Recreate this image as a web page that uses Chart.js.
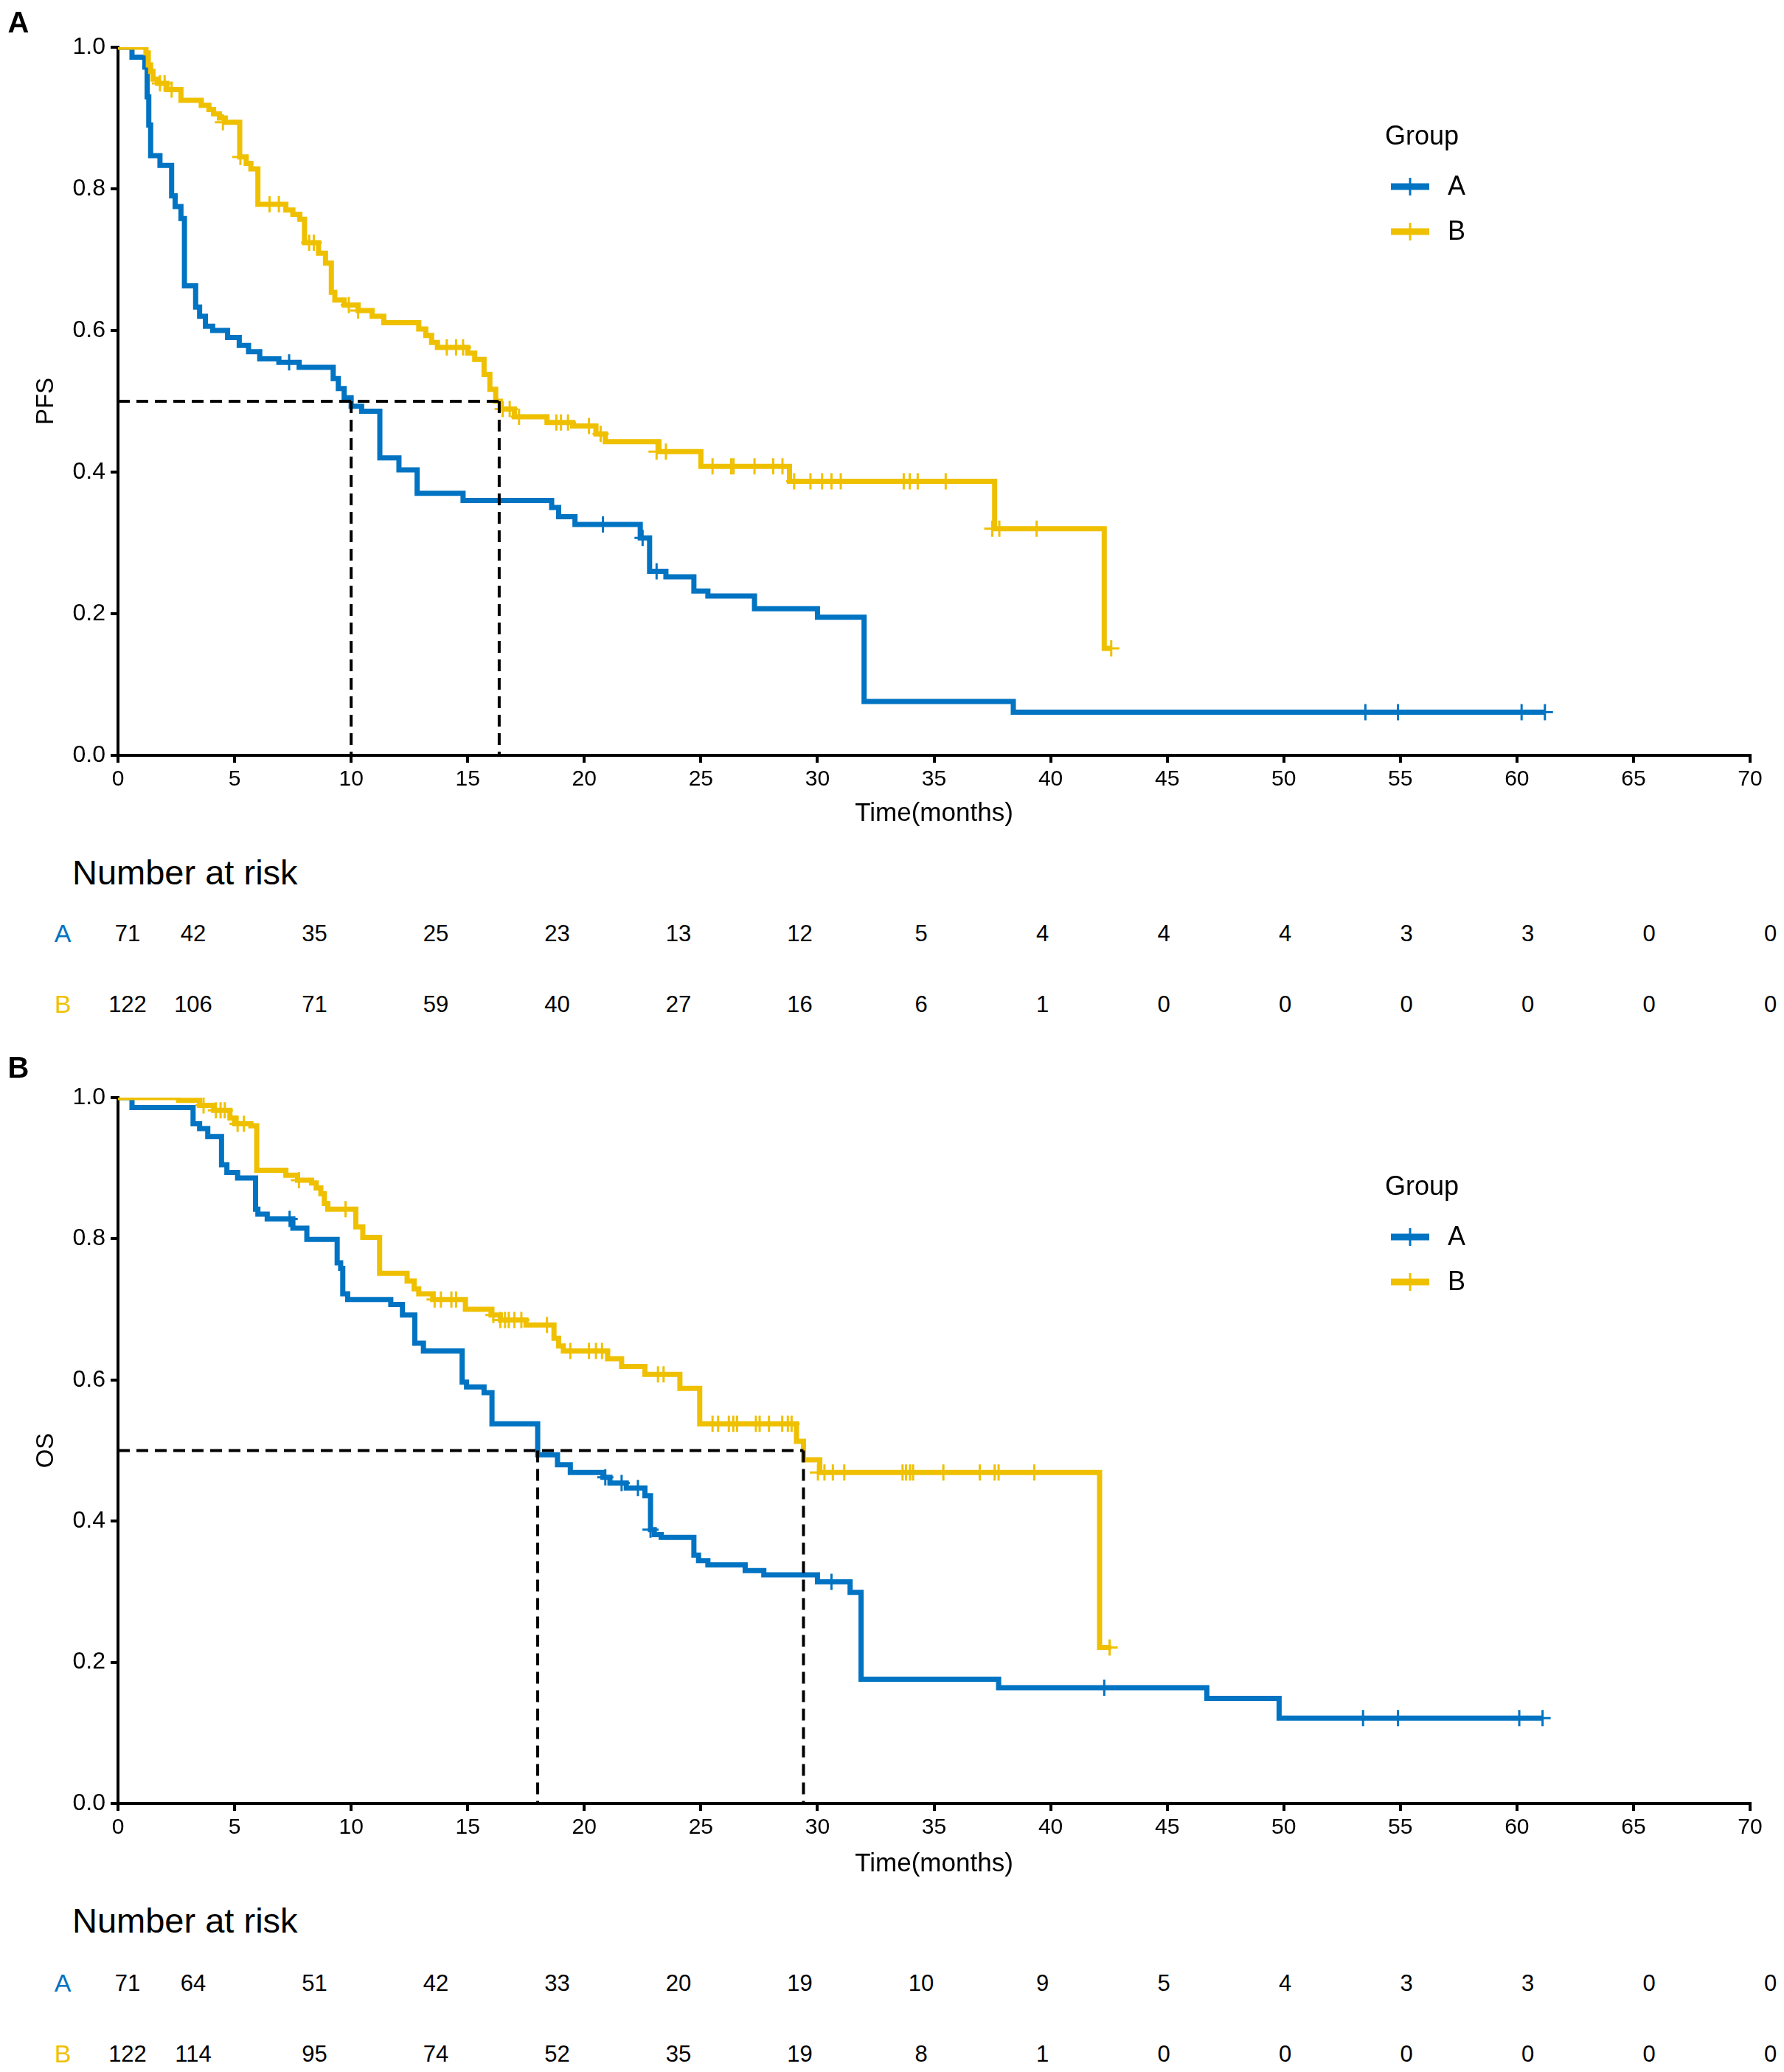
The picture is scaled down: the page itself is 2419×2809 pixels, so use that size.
<!DOCTYPE html>
<html>
<head>
<meta charset="utf-8">
<script src="https://cdn.jsdelivr.net/npm/chart.js@4.4.1/dist/chart.umd.min.js"></script>
<style>
  html, body { margin: 0; padding: 0; background: #fff; }
  body { width: 2419px; height: 2809px; position: relative; overflow: hidden;
         font-family: "Liberation Sans", Arial, sans-serif; color: #000; }
  .panel { position: absolute; left: 0; width: 2419px; height: 1140px; }
  .txt { position: absolute; white-space: nowrap; line-height: 1; transform: translate(-50%, -50%); }
  .left { transform: translate(0, -50%); }
</style>
</head>
<body>
<div class="panel" style="top:0"><canvas id="chartA" width="2419" height="1140"></canvas></div>
<div class="panel" style="top:1424px"><canvas id="chartB" width="2419" height="1140"></canvas></div>
<div id="labels"></div>

<script>
// Colours (JCO palette)
const groupNames = ["A", "B"];
const groupColors = ["#0073C2", "#EFC000"];

// Axis ticks
const timeTicks = [0, 5, 10, 15, 20, 25, 30, 35, 40, 45, 50, 55, 60, 65, 70];

// ---- Panel A: PFS, step points [time, survival] ----
const pfsA = [[0,1],[0.6,0.986],[1.15,0.972],[1.25,0.93],[1.32,0.89],[1.4,0.847],[1.8,0.833],[2.3,0.79],
  [2.45,0.775],[2.7,0.758],[2.85,0.663],[3.33,0.633],[3.5,0.62],[3.75,0.606],[4.06,0.6],[4.7,0.59],
  [5.2,0.579],[5.6,0.57],[6.08,0.56],[6.9,0.555],[7.77,0.548],[9.23,0.532],[9.45,0.518],[9.7,0.505],
  [10.0,0.493],[10.45,0.486],[11.23,0.42],[12.05,0.403],[12.83,0.37],[14.8,0.36],[18.6,0.35],
  [18.9,0.337],[19.6,0.326],[22.4,0.307],[22.8,0.26],[23.5,0.252],[24.7,0.232],[25.3,0.225],
  [27.3,0.207],[30.0,0.195],[32.0,0.076],[38.4,0.061],[61.2,0.061]];
const pfsACensor = [[7.34,0.555],[20.8,0.326],[22.5,0.307],[23.1,0.26],[53.5,0.061],[54.9,0.061],
  [60.2,0.061],[61.2,0.061]];

const pfsB = [[0,1],[1.2,0.992],[1.3,0.975],[1.4,0.966],[1.5,0.955],[1.7,0.949],[2.1,0.94],[2.7,0.925],
  [3.57,0.918],[3.9,0.912],[4.1,0.906],[4.35,0.9],[4.6,0.894],[5.22,0.845],[5.5,0.836],[5.7,0.828],
  [6.0,0.778],[7.2,0.77],[7.5,0.764],[7.8,0.757],[8.0,0.724],[8.6,0.709],[8.9,0.695],[9.15,0.654],
  [9.3,0.643],[9.7,0.636],[10.3,0.628],[10.9,0.62],[11.4,0.611],[12.9,0.602],[13.2,0.593],
  [13.45,0.583],[13.7,0.576],[15.0,0.568],[15.3,0.559],[15.7,0.538],[15.95,0.517],[16.2,0.5],
  [16.4,0.489],[17.0,0.478],[18.4,0.47],[19.5,0.465],[20.5,0.454],[20.9,0.443],[23.2,0.429],
  [25.0,0.408],[28.8,0.387],[37.6,0.32],[42.3,0.151],[42.6,0.151]];
const pfsBCensor = [[1.8,0.949],[2.0,0.949],[2.3,0.94],[4.5,0.894],[5.25,0.845],[6.5,0.778],[6.9,0.778],
  [8.2,0.724],[8.4,0.724],[9.9,0.636],[10.3,0.628],[14.1,0.576],[14.5,0.576],[14.8,0.576],
  [16.5,0.489],[16.8,0.489],[17.2,0.478],[18.8,0.47],[19.0,0.47],[19.3,0.47],[20.2,0.465],
  [20.7,0.454],[23.1,0.429],[23.5,0.429],[25.5,0.408],[26.3,0.408],[26.4,0.408],[27.3,0.408],
  [28.1,0.408],[28.5,0.408],[29.0,0.387],[29.7,0.387],[30.2,0.387],[30.6,0.387],[31.0,0.387],
  [33.7,0.387],[33.96,0.387],[34.3,0.387],[35.5,0.387],[37.5,0.32],[37.8,0.32],[39.4,0.32],[42.6,0.151]];
const pfsMedians = [10.0, 16.35];

const pfsRiskA = [71, 42, 35, 25, 23, 13, 12, 5, 4, 4, 4, 3, 3, 0, 0];
const pfsRiskB = [122, 106, 71, 59, 40, 27, 16, 6, 1, 0, 0, 0, 0, 0, 0];

// ---- Panel B: OS ----
const osA = [[0,1],[0.6,0.986],[3.22,0.963],[3.5,0.956],[3.85,0.945],[4.44,0.905],[4.67,0.894],
  [5.13,0.886],[5.9,0.842],[6.0,0.835],[6.4,0.828],[7.5,0.815],[8.1,0.799],[9.4,0.766],[9.55,0.758],
  [9.64,0.722],[9.85,0.714],[11.7,0.707],[12.2,0.692],[12.73,0.652],[13.1,0.641],[14.76,0.597],
  [14.95,0.59],[15.7,0.582],[16.04,0.538],[18.0,0.494],[18.85,0.48],[19.4,0.469],[20.8,0.462],
  [21.1,0.454],[21.8,0.447],[22.6,0.436],[22.84,0.388],[23.0,0.381],[23.3,0.377],[24.7,0.352],
  [24.9,0.344],[25.3,0.338],[26.9,0.33],[27.7,0.324],[30.0,0.314],[31.4,0.299],[31.87,0.176],
  [37.77,0.164],[46.7,0.149],[49.8,0.121],[61.1,0.121]];
const osACensor = [[7.36,0.828],[20.9,0.462],[21.6,0.454],[22.3,0.447],[22.84,0.388],[30.6,0.314],
  [42.3,0.164],[53.4,0.121],[54.9,0.121],[60.1,0.121],[61.1,0.121]];

const osB = [[0,1],[2.6,0.996],[3.5,0.989],[4.1,0.982],[4.8,0.971],[5.0,0.963],[5.7,0.96],[5.95,0.897],
  [7.2,0.89],[7.7,0.883],[8.3,0.879],[8.5,0.872],[8.7,0.864],[8.85,0.85],[9.0,0.842],[10.2,0.817],
  [10.5,0.802],[11.22,0.751],[12.4,0.74],[12.7,0.729],[12.9,0.722],[13.5,0.714],[14.9,0.7],
  [16.0,0.692],[16.4,0.685],[17.5,0.678],[18.7,0.659],[18.9,0.648],[19.1,0.641],[21.0,0.63],
  [21.6,0.619],[22.6,0.608],[24.1,0.588],[24.95,0.538],[29.1,0.513],[29.4,0.487],[30.1,0.469],
  [42.1,0.221],[42.6,0.221]];
const osBCensor = [[3.67,0.989],[4.2,0.982],[4.4,0.982],[4.58,0.982],[5.13,0.963],[5.4,0.963],
  [7.76,0.883],[9.76,0.842],[13.58,0.714],[13.85,0.714],[14.3,0.714],[14.5,0.714],[16.1,0.692],
  [16.4,0.685],[16.6,0.685],[16.76,0.685],[17.0,0.685],[17.3,0.685],[18.4,0.678],[19.4,0.641],
  [20.2,0.641],[20.5,0.641],[20.76,0.641],[23.16,0.608],[23.4,0.608],[25.5,0.538],[25.74,0.538],
  [26.2,0.538],[26.39,0.538],[26.55,0.538],[27.36,0.538],[27.52,0.538],[27.92,0.538],[28.49,0.538],
  [28.73,0.538],[28.89,0.538],[30.02,0.469],[30.3,0.469],[30.66,0.469],[31.15,0.469],[33.65,0.469],
  [33.8,0.469],[33.97,0.469],[34.1,0.469],[35.4,0.469],[36.96,0.469],[37.6,0.469],[37.77,0.469],
  [39.3,0.469],[42.53,0.221]];
const osMedians = [18.0, 29.4];

const osRiskA = [71, 64, 51, 42, 33, 20, 19, 10, 9, 5, 4, 3, 3, 0, 0];
const osRiskB = [122, 114, 95, 74, 52, 35, 19, 8, 1, 0, 0, 0, 0, 0, 0];

const FONT = '"Liberation Sans", Arial, sans-serif';

// Legend drawn inside the canvas: title + line with cross per group
const kmLegend = {
  id: 'kmLegend',
  afterDraw(chart) {
    const ctx = chart.ctx;
    ctx.save();
    ctx.fillStyle = '#000';
    ctx.font = '36px ' + FONT;
    ctx.textBaseline = 'middle';
    ctx.textAlign = 'left';
    ctx.fillText('Group', 1878, 186);
    groupNames.forEach((name, i) => {
      const y = 253 + i * 61;
      ctx.strokeStyle = groupColors[i];
      ctx.lineWidth = 9;
      ctx.beginPath(); ctx.moveTo(1886, y); ctx.lineTo(1938, y); ctx.stroke();
      ctx.lineWidth = 3;
      ctx.beginPath(); ctx.moveTo(1912, y - 12); ctx.lineTo(1912, y + 12); ctx.stroke();
      ctx.fillStyle = '#000';
      ctx.fillText(name, 1963, y + 1);
    });
    ctx.restore();
  }
};

function toPoints(pairs) {
  return pairs.map(p => ({ x: p[0], y: p[1] }));
}

function buildChart(canvasId, curves, censors, medians, yTitle, plotBottom) {
  const datasets = [];
  // median reference lines
  const maxMed = Math.max(...medians);
  datasets.push({
    data: [{ x: 0, y: 0.5 }, { x: maxMed, y: 0.5 }],
    showLine: true, borderColor: '#000', borderWidth: 4, borderDash: [16, 9],
    pointRadius: 0, order: 0
  });
  medians.forEach(m => {
    datasets.push({
      data: [{ x: m, y: 0.5 }, { x: m, y: 0 }],
      showLine: true, borderColor: '#000', borderWidth: 4, borderDash: [16, 9],
      pointRadius: 0, order: 0
    });
  });
  curves.forEach((c, i) => {
    datasets.push({
      data: toPoints(c), showLine: true, stepped: true,
      borderColor: groupColors[i], borderWidth: 7, pointRadius: 0,
      borderJoinStyle: 'miter', borderCapStyle: 'butt', order: 2 - i
    });
  });
  censors.forEach((c, i) => {
    datasets.push({
      data: toPoints(c), showLine: false, pointStyle: 'cross',
      pointRadius: 11, pointBorderWidth: 3, borderColor: groupColors[i],
      backgroundColor: groupColors[i], order: 2 - i
    });
  });

  return new Chart(document.getElementById(canvasId), {
    type: 'scatter',
    data: { datasets },
    options: {
      responsive: false,
      animation: false,
      devicePixelRatio: 1,
      layout: { padding: { left: 0, right: 46, top: 64, bottom: 0 } },
      plugins: { legend: { display: false }, tooltip: { enabled: false } },
      scales: {
        x: {
          type: 'linear', min: 0, max: 70,
          afterFit: s => { s.height = 1140 - plotBottom; },
          afterBuildTicks: s => { s.ticks = timeTicks.map(v => ({ value: v })); },
          ticks: { autoSkip: false, maxRotation: 0, color: '#000', padding: 5,
                   font: { family: FONT, size: 30 } },
          grid: { drawOnChartArea: false, drawTicks: true, tickLength: 10, lineWidth: 4, color: '#000' },
          border: { display: true, color: '#000', width: 4 },
          title: { display: true, text: 'Time(months)', color: '#000',
                   font: { family: FONT, size: 35 }, padding: { top: 0, bottom: 16 } }
        },
        y: {
          type: 'linear', min: 0, max: 1,
          afterFit: s => { s.width = 160; },
          ticks: { stepSize: 0.2, color: '#000', padding: 7,
                   font: { family: FONT, size: 32 }, callback: v => v.toFixed(1) },
          grid: { drawOnChartArea: false, drawTicks: true, tickLength: 10, lineWidth: 4, color: '#000' },
          border: { display: true, color: '#000', width: 4 },
          title: { display: true, text: yTitle, color: '#000',
                   font: { family: FONT, size: 33 }, padding: { top: 43, bottom: 0 } }
        }
      }
    },
    plugins: [kmLegend]
  });
}

buildChart('chartA', [pfsA, pfsB], [pfsACensor, pfsBCensor], pfsMedians, 'PFS', 1024);
buildChart('chartB', [osA, osB], [osACensor, osBCensor], osMedians, 'OS', 1021);

// Panel letters and number-at-risk tables (HTML text)
const labels = document.getElementById('labels');
function addText(text, x, y, size, opts = {}) {
  const d = document.createElement('div');
  d.className = 'txt' + (opts.left ? ' left' : '');
  d.textContent = text;
  d.style.left = x + 'px';
  d.style.top = y + 'px';
  d.style.fontSize = size + 'px';
  if (opts.bold) d.style.fontWeight = 'bold';
  if (opts.color) d.style.color = opts.color;
  labels.appendChild(d);
}

const riskColX = timeTicks.map((t, i) => i === 0 ? 173 : 262 + 164.5 * (i - 1));

function riskTable(topY, rowsY, riskA, riskB) {
  addText('Number at risk', 98, topY, 47, { left: true });
  [riskA, riskB].forEach((row, g) => {
    addText(groupNames[g], 85, rowsY[g], 34, { color: groupColors[g] });
    row.forEach((n, i) => addText(String(n), riskColX[i], rowsY[g], 31));
  });
}

addText('A', 25, 30, 40, { bold: true });
addText('B', 25, 1447, 40, { bold: true });
riskTable(1182, [1265, 1361], pfsRiskA, pfsRiskB);
riskTable(2603, [2688, 2784], osRiskA, osRiskB);
</script>
</body>
</html>
